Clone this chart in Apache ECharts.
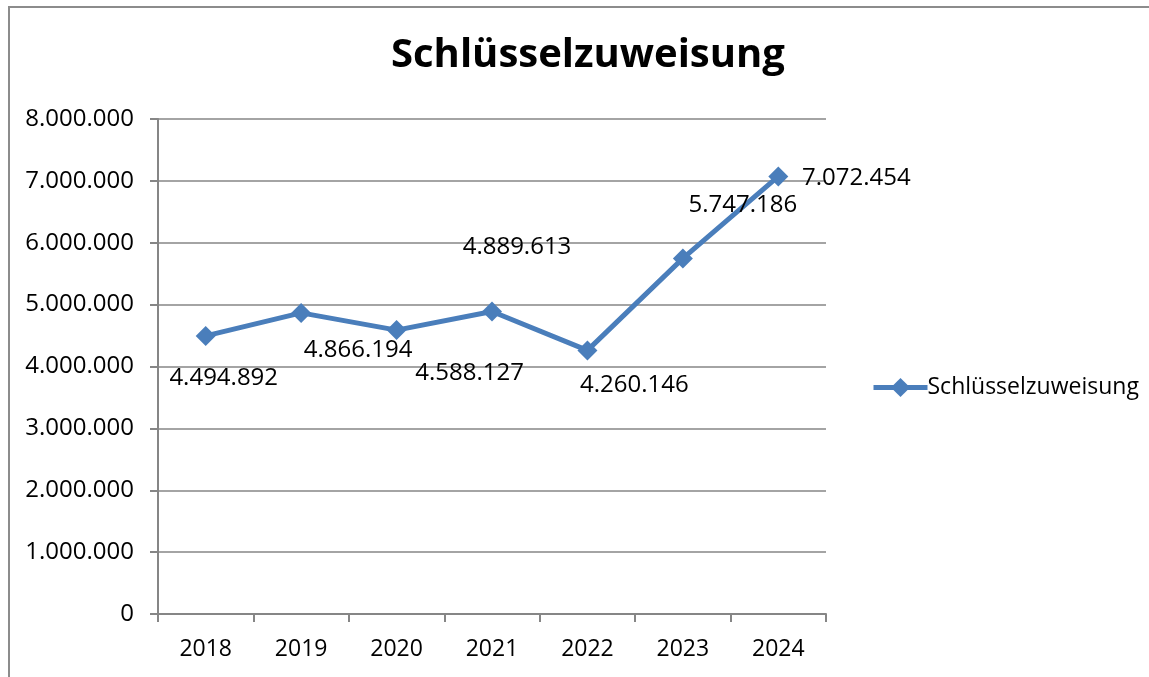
<!DOCTYPE html>
<html>
  <head>
    <meta charset="utf-8">
    <title>Schlüsselzuweisung</title>
    <script src="https://cdn.jsdelivr.net/npm/echarts@6/dist/echarts.min.js"></script>
    <style>
      html, body { margin: 0; padding: 0; background: #fff; }
      #chart { width: 1149px; height: 677px; }
      #frame { position: absolute; left: 8px; top: 6px; width: 1141px; height: 671px;
               border-top: 2px solid #8c8c8c; border-left: 2px solid #8c8c8c; box-sizing: border-box; pointer-events: none; }
    </style>
  </head>
  <body>
    <div id="chart"></div>
    <div id="frame"></div>
    <script type="text/javascript">
      // data
      var years = ["2018", "2019", "2020", "2021", "2022", "2023", "2024"];
      var values = [4494892, 4866194, 4588127, 4889613, 4260146, 5747186, 7072454];
      // label offsets (where Excel put the value labels)
      var labelShift = [[18, 42], [57, 37], [73, 43], [25, -64], [47, 35], [60, -53], [78, 2]];

      var font = "'Open Sans', 'Noto Sans', sans-serif";
      var blue = "#4a7ebb";
      var gray = "#868686";

      function fmt(v){
        return String(v).replace(/\B(?=(\d{3})+(?!\d))/g, ".");
      }

      var points = [];
      for (var i = 0; i < values.length; i++){
        points.push({
          value: values[i],
          label: { offset: labelShift[i] }
        });
      }

      var myChart = echarts.init(document.getElementById('chart'));
      myChart.setOption({
        animation: false,
        title: {
          text: "Schlüsselzuweisung",
          left: 386,
          top: 31,
          textStyle: { fontFamily: font, fontSize: 40, fontWeight: 'bold', color: '#000' }
        },
        legend: {
          left: 866,
          top: 371,
          itemWidth: 54,
          itemHeight: 24,
          itemGap: 4,
          lineStyle: { width: 5 },
          textStyle: { fontFamily: font, fontSize: 23, color: '#000', padding: [0, 0, 0, -5] },
          data: ["Schlüsselzuweisung"]
        },
        grid: { left: 158, right: 323, top: 119, bottom: 63 },
        xAxis: {
          type: 'category',
          data: years,
          boundaryGap: true,
          axisLine: { lineStyle: { color: gray, width: 2 } },
          axisTick: { show: true, length: 8, lineStyle: { color: gray, width: 2 } },
          axisLabel: { margin: 24, fontFamily: font, fontSize: 23, color: '#000' }
        },
        yAxis: {
          type: 'value',
          min: 0,
          max: 8000000,
          interval: 1000000,
          axisLine: { show: true, lineStyle: { color: gray, width: 2 } },
          axisTick: { show: true, length: 8, lineStyle: { color: gray, width: 2 } },
          splitLine: { lineStyle: { color: gray, width: 1.5 } },
          axisLabel: {
            margin: 24, fontFamily: font, fontSize: 24, color: '#000',
            formatter: function(v){ return fmt(v); }
          }
        },
        series: [{
          name: "Schlüsselzuweisung",
          type: 'line',
          data: points,
          symbol: 'diamond',
          symbolSize: 20,
          lineStyle: { color: blue, width: 5 },
          itemStyle: { color: blue },
          label: {
            show: true,
            position: 'inside',
            fontFamily: font,
            fontSize: 24,
            color: '#000',
            formatter: function(p){ return fmt(p.value); }
          }
        }]
      });
    </script>
  </body>
</html>
